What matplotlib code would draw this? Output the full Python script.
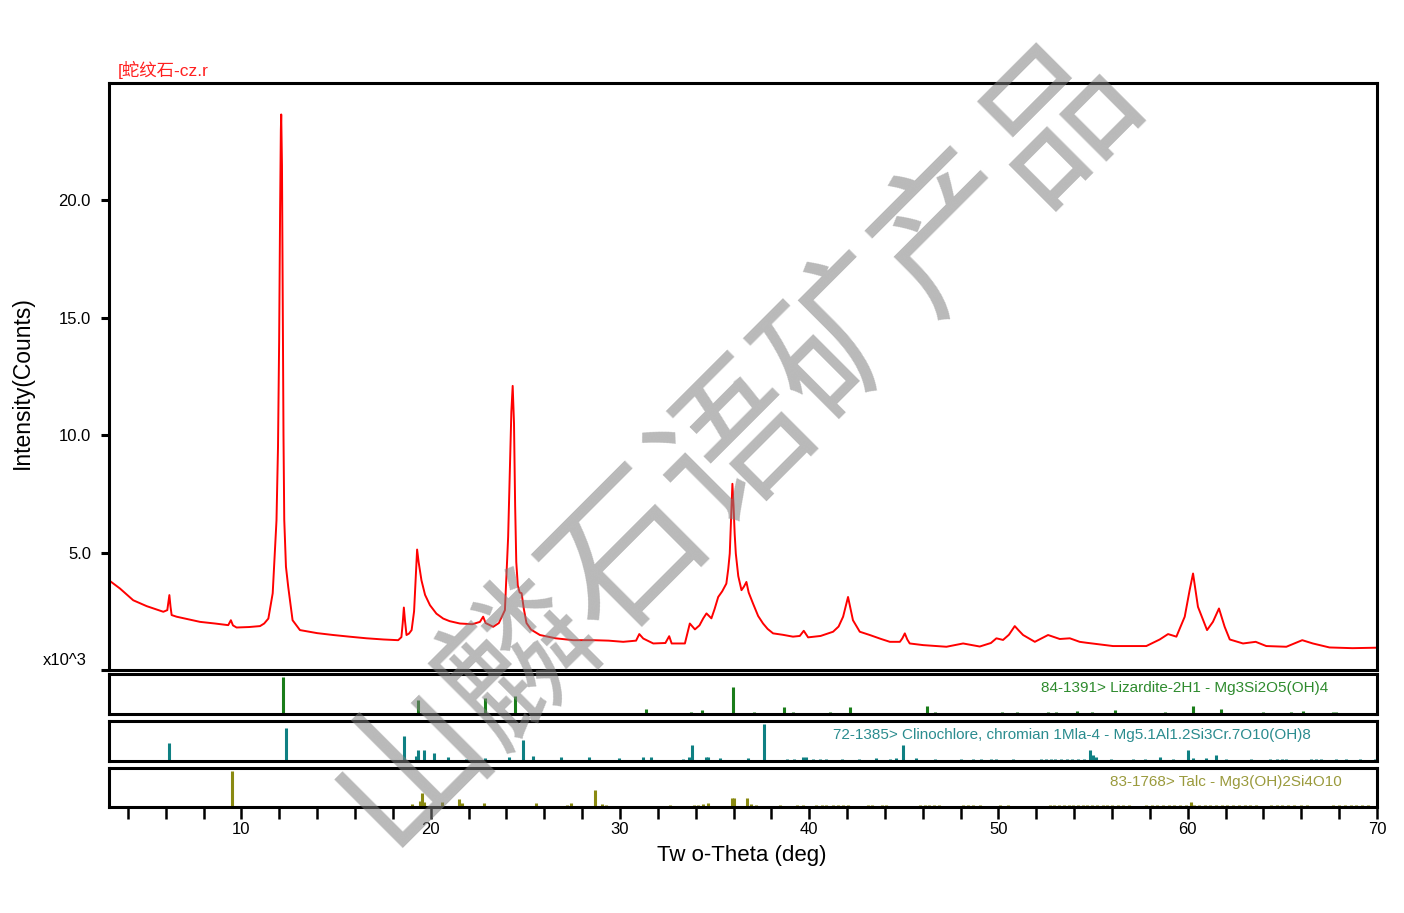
import numpy as np
import matplotlib.pyplot as plt
from matplotlib.ticker import FixedLocator, FuncFormatter

plt.rcParams['font.family'] = ['Liberation Sans', 'Noto Sans CJK SC']

# measured pattern (2-theta in deg, intensity in thousands of counts)
two_theta = [3.05, 3.58, 4.28, 4.99, 5.87, 6.08, 6.19, 6.25, 6.31, 6.57, 7.81, 8.60,
             9.30, 9.44, 9.55, 9.74, 10.40, 10.98, 11.20, 11.42, 11.65, 11.85, 11.93,
             11.99, 12.04, 12.08, 12.10, 12.14, 12.18, 12.22, 12.26, 12.35, 12.47, 12.70,
             13.09, 14.00, 14.85, 15.70, 16.61, 17.50, 18.28, 18.45, 18.52, 18.58, 18.64,
             18.72, 18.85, 18.99, 19.12, 19.20, 19.28, 19.36, 19.51, 19.70, 19.96, 20.30,
             20.66, 21.00, 21.54, 22.20, 22.60, 22.77, 22.90, 23.30, 23.60, 23.92, 24.09,
             24.18, 24.26, 24.33, 24.40, 24.46, 24.52, 24.60, 24.70, 24.80, 24.92, 25.06,
             25.30, 25.77, 26.60, 27.53, 28.59, 29.40, 30.17, 30.85, 31.02, 31.23, 31.76,
             32.40, 32.60, 32.73, 33.43, 33.69, 33.96, 34.20, 34.40, 34.57, 34.83, 35.00,
             35.19, 35.40, 35.62, 35.72, 35.80, 35.87, 35.94, 36.00, 36.06, 36.12, 36.25,
             36.42, 36.55, 36.68, 36.80, 37.03, 37.30, 37.56, 37.80, 38.09, 38.60, 39.14,
             39.50, 39.71, 39.94, 40.60, 41.26, 41.55, 41.79, 42.05, 42.31, 42.67, 43.20,
             43.80, 44.26, 44.79, 44.92, 45.05, 45.18, 45.31, 46.02, 47.25, 48.13, 49.01,
             49.60, 49.89, 50.24, 50.55, 50.86, 51.05, 51.30, 51.92, 52.62, 53.24, 53.77,
             54.29, 54.65, 56.05, 57.81, 58.52, 58.96, 59.40, 59.84, 60.10, 60.28, 60.54,
             61.02, 61.33, 61.65, 61.95, 62.22, 62.92, 63.59, 64.15, 65.21, 66.05, 66.61,
             67.49, 68.70, 69.87, 70.00]
counts_k = [3.79, 3.47, 2.97, 2.72, 2.48, 2.55, 3.19, 2.70, 2.34, 2.27, 2.05, 1.98,
            1.91, 2.12, 1.90, 1.81, 1.83, 1.87, 1.98, 2.19, 3.27, 6.37, 9.50,
            14.0, 19.5, 23.0, 23.66, 21.5, 16.0, 10.0, 6.40, 4.40, 3.54, 2.12,
            1.70, 1.57, 1.49, 1.42, 1.35, 1.30, 1.27, 1.40, 2.00, 2.66, 2.10,
            1.49, 1.55, 1.70, 2.50, 3.80, 5.13, 4.60, 3.82, 3.20, 2.76, 2.40,
            2.19, 2.08, 1.98, 1.95, 2.05, 2.27, 2.00, 1.84, 2.00, 2.55, 5.66,
            8.50, 11.0, 12.1, 10.5, 7.00, 4.60, 3.60, 3.30, 3.27, 2.60, 2.00,
            1.72, 1.49, 1.35, 1.27, 1.27, 1.25, 1.20, 1.25, 1.53, 1.34, 1.13,
            1.15, 1.44, 1.13, 1.13, 1.98, 1.73, 1.90, 2.20, 2.41, 2.20, 2.60,
            3.11, 3.35, 3.68, 4.30, 4.96, 6.50, 7.93, 7.00, 5.80, 4.96, 4.00,
            3.40, 3.55, 3.75, 3.30, 2.83, 2.30, 1.98, 1.75, 1.56, 1.50, 1.42,
            1.45, 1.67, 1.39, 1.45, 1.63, 1.85, 2.27, 3.11, 2.12, 1.63, 1.49,
            1.32, 1.20, 1.20, 1.35, 1.56, 1.30, 1.13, 1.06, 0.99, 1.13, 1.00,
            1.15, 1.35, 1.28, 1.50, 1.87, 1.70, 1.49, 1.20, 1.49, 1.32, 1.35,
            1.20, 1.16, 1.02, 1.02, 1.30, 1.53, 1.42, 2.27, 3.40, 4.11, 2.69,
            1.70, 2.05, 2.62, 1.84, 1.30, 1.13, 1.20, 1.02, 0.99, 1.27, 1.13,
            0.96, 0.93, 0.95, 0.95]

# reference cards (positions in deg, relative intensity in %)
liz_pos = [12.18, 19.31, 22.88, 24.46, 31.37, 33.74, 34.31, 35.95, 37.06, 38.64,
           39.15, 41.10, 42.14, 46.23, 46.65, 50.21, 50.98, 52.62, 53.03, 54.15,
           54.96, 56.14, 58.78, 60.28, 61.78, 63.98, 65.43, 66.10, 67.68, 67.86]
liz_int = [100, 38, 43, 50, 14, 6, 10, 73, 6, 19,
           6, 6, 19, 23, 6, 6, 6, 6, 6, 7,
           6, 10, 6, 23, 14, 6, 6, 8, 6, 6]

clin_pos = [6.17, 12.35, 18.60, 19.20, 19.31, 19.66, 20.19, 20.89, 21.84, 22.88,
            24.15, 24.85, 25.41, 26.86, 28.37, 29.94, 31.19, 31.63, 33.34, 33.64,
            33.83, 34.57, 34.66, 35.28, 36.77, 37.60, 38.80, 39.20, 39.68, 39.85,
            40.20, 40.55, 40.90, 41.71, 42.64, 43.55, 44.26, 44.58, 44.96, 45.63,
            46.63, 48.04, 48.66, 49.05, 49.63, 49.89, 50.77, 52.25, 52.50, 52.75,
            53.00, 53.30, 53.60, 53.90, 54.20, 54.50, 54.82, 55.00, 55.17, 55.97,
            57.11, 57.73, 58.52, 59.23, 60.02, 60.28, 60.99, 61.51, 62.04, 63.36,
            64.35, 64.70, 65.00, 65.20, 66.53, 66.80, 67.06, 67.86, 68.38, 69.08,
            69.87]
clin_int = [49, 89, 68, 14, 30, 30, 23, 11, 6, 8,
            11, 56, 14, 12, 10, 7, 12, 10, 6, 12,
            43, 12, 12, 8, 7, 100, 6, 6, 10, 12,
            6, 6, 6, 6, 6, 7, 6, 7, 43, 7,
            6, 6, 6, 6, 6, 6, 6, 6, 6, 6,
            6, 6, 6, 6, 6, 6, 30, 15, 10, 6,
            6, 6, 10, 6, 30, 8, 8, 15, 6, 6,
            6, 6, 6, 6, 6, 6, 6, 6, 6, 6,
            6]

talc_pos = [9.48, 18.99, 19.43, 19.55, 19.66, 20.57, 21.51, 21.66, 22.81, 25.56,
            27.18, 27.41, 28.67, 29.03, 29.24, 32.64, 33.90, 34.13, 34.39, 34.63,
            35.91, 36.02, 36.69, 36.90, 37.18, 38.48, 39.33, 39.68, 40.38, 40.65,
            40.91, 41.26, 41.53, 41.79, 42.05, 43.11, 43.29, 43.82, 44.08, 45.85,
            46.10, 46.35, 46.60, 46.85, 48.13, 48.40, 48.66, 49.00, 50.07, 50.50,
            52.70, 52.95, 53.20, 53.45, 53.70, 53.95, 54.20, 54.45, 54.70, 54.95,
            55.20, 55.50, 55.75, 56.00, 56.30, 56.60, 56.90, 57.80, 58.10, 58.40,
            58.70, 59.00, 59.30, 59.60, 59.90, 60.15, 60.35, 60.60, 60.90, 61.20,
            61.50, 61.80, 62.10, 62.40, 62.70, 63.00, 63.30, 63.60, 64.40, 64.70,
            65.00, 65.30, 65.60, 66.00, 66.30, 67.70, 68.00, 68.30, 68.60, 68.90,
            69.20, 69.50]
talc_int = [100, 9, 17, 38, 15, 14, 22, 10, 10, 10,
            6, 10, 47, 8, 6, 6, 6, 6, 8, 10,
            24, 24, 24, 8, 6, 6, 6, 6, 6, 6,
            6, 6, 6, 6, 6, 6, 6, 6, 6, 6,
            6, 6, 6, 6, 6, 6, 6, 6, 6, 6,
            6, 6, 6, 6, 6, 6, 6, 6, 6, 6,
            6, 6, 6, 6, 6, 6, 6, 6, 6, 6,
            6, 6, 6, 6, 6, 14, 6, 6, 6, 6,
            6, 6, 6, 6, 6, 6, 6, 6, 6, 6,
            6, 6, 6, 6, 6, 6, 6, 6, 6, 6,
            6, 6]

W, H = 1404, 913


def box(l, t, r, b):
    return [l / W, 1 - b / H, (r - l) / W, (b - t) / H]


fig = plt.figure(figsize=(W / 100, H / 100), dpi=100)

ax = fig.add_axes(box(109, 83, 1377, 670))
ax.plot(two_theta, counts_k, color='#ff0000', lw=1.4)
ax.set_xlim(3, 70)
ax.set_ylim(0, 25)
ax.set_xticks([])
ax.set_yticks([0, 5, 10, 15, 20])
ax.set_yticklabels(['', '5.0', '10.0', '15.0', '20.0'])
ax.tick_params(axis='y', direction='out', length=6, width=2.2, labelsize=12, pad=7)
for s in ax.spines.values():
    s.set_linewidth(2.2)

fig.text(87 / W, 1 - 660 / H, 'x10^3', ha='right', va='center', fontsize=12)
fig.text(118 / W, 1 - 70 / H, '[蛇纹石-cz.r', ha='left', va='center', fontsize=12.5,
         color='#ff2020')
fig.text(22 / W, 1 - 383 / H, 'Intensity(Counts)', rotation=90, ha='center',
         va='center', fontsize=16.5)
fig.text(742 / W, 1 - 855 / H, 'Tw o-Theta (deg)', ha='center', va='center',
         fontsize=16)

panels = [
    (674, 714, liz_pos, liz_int, '#1a7d1a', '#2e8b2e',
     '84-1391> Lizardite-2H1 - Mg3Si2O5(OH)4', 1328),
    (721, 761, clin_pos, clin_int, '#0f8083', '#2a8c8f',
     '72-1385> Clinochlore, chromian 1Mla-4 - Mg5.1Al1.2Si3Cr.7O10(OH)8', 1311),
    (768, 807, talc_pos, talc_int, '#8a8a12', '#9a9a3c',
     '83-1768> Talc - Mg3(OH)2Si4O10', 1342),
]
for top, bot, pos, inten, col, tcol, label, right in panels:
    pax = fig.add_axes(box(109, top, 1377, bot))
    pax.vlines(pos, 0, np.array(inten) / 100.0, color=col, lw=2.2)
    pax.set_xlim(3, 70)
    pax.set_ylim(0, 1.09)
    pax.set_yticks([])
    pax.set_xticks([])
    for s in pax.spines.values():
        s.set_linewidth(2.2)
    pax.text((right - 109) / 1268, 0.65, label, transform=pax.transAxes,
             ha='right', va='center', fontsize=11, color=tcol)

# x axis ticks on the lowest panel
pax.xaxis.set_major_locator(FixedLocator(list(range(4, 71, 2))))
pax.xaxis.set_major_formatter(FuncFormatter(lambda v, p: f'{int(v)}' if v % 10 == 0 else ''))
pax.tick_params(axis='x', direction='out', length=8.5, width=1.8, labelsize=12, pad=2)

# watermark
fig.text(735 / W, 1 - 440 / H, '山麟石语矿产品', rotation=45, ha='center', va='center',
         fontsize=110, family='Noto Sans CJK SC', fontweight='light',
         color='#808080', alpha=0.55, zorder=10)

fig.savefig('out.png', dpi=100)
